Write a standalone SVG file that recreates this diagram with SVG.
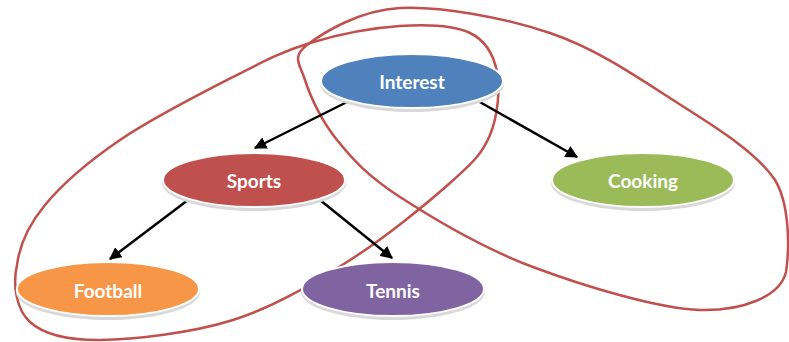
<svg xmlns="http://www.w3.org/2000/svg" width="789" height="342" viewBox="0 0 789 342">
<style>
.loop{fill:none;stroke:#C0504D;stroke-width:2.5;stroke-linejoin:round}
.edge{fill:none;stroke:#000;stroke-width:2.5}
.shadow{fill:#d9d9d9}
.node{stroke:#fff;stroke-width:2}
.lbl{font-family:Lato,"Open Sans","Liberation Sans",sans-serif;font-weight:bold;font-size:19px;fill:#fff;text-anchor:middle;dominant-baseline:central}
</style>
<defs>
<marker id="arr" viewBox="0 0 10 10" refX="9" refY="5" markerWidth="5" markerHeight="5" orient="auto" markerUnits="strokeWidth">
<path d="M0,0 L10,5 L0,10 Z" fill="#000"/>
</marker>
</defs>
<rect width="789" height="342" fill="#fff"/>
<g id="loops">
<path class="loop" d="M17,265 C19.5,245.5 27.8,225.8 45,205 C62.2,184.2 88.7,161.3 120,140 C151.3,118.7 201.3,93.2 233,77 C264.7,60.8 282.2,51.5 310,43 C337.8,34.5 373.3,27.7 400,26 C426.7,24.3 453.8,25.3 470,33 C486.2,40.7 493.7,55 497,72 C500.3,89 497.8,116.5 490,135 C482.2,153.5 473.8,161.8 450,183 C426.2,204.2 383.2,239.2 347,262 C310.8,284.8 274.2,307 233,320 C191.8,333 133.8,339.7 100,340 C66.2,340.3 43.8,334.5 30,322 C16.2,309.5 12.5,284.5 17,265 Z"/>
<path class="loop" d="M307,45 C322.8,33 359.5,10 400,8 C440.5,6 504.5,17.7 550,33 C595.5,48.3 635.8,76 673,100 C710,124 755,150 775,180 C789,203 790,245 786,272 C780,297 742,311 700,310 C657.7,308.7 583,285.8 533,267 C483,248.2 432.7,218.2 400,197 C367.3,175.8 352.8,159.5 337,140 C321.2,120.5 310,95.8 305,80 C300,64.2 291.2,57 307,45 Z"/>
</g>
<g id="connectors">
<line class="edge" x1="347" y1="102" x2="255" y2="148" marker-end="url(#arr)"/>
<line class="edge" x1="478" y1="101" x2="577" y2="157" marker-end="url(#arr)"/>
<line class="edge" x1="188" y1="200" x2="110" y2="259" marker-end="url(#arr)"/>
<line class="edge" x1="320" y1="200" x2="392" y2="258" marker-end="url(#arr)"/>
</g>
<g id="interest">
<ellipse class="shadow" cx="412" cy="84" rx="92" ry="28"/>
<ellipse class="node" cx="412" cy="81" rx="91" ry="27" fill="#4F81BD"/>
<text class="lbl" x="412" y="81">Interest</text>
</g>
<g id="sports">
<ellipse class="shadow" cx="254" cy="183" rx="92" ry="28"/>
<ellipse class="node" cx="254" cy="180" rx="91" ry="27" fill="#C0504D"/>
<text class="lbl" x="254" y="180">Sports</text>
</g>
<g id="cooking">
<ellipse class="shadow" cx="643" cy="183" rx="92" ry="28"/>
<ellipse class="node" cx="643" cy="180" rx="91" ry="27" fill="#9BBB59"/>
<text class="lbl" x="643" y="180">Cooking</text>
</g>
<g id="football">
<ellipse class="shadow" cx="108" cy="292" rx="92" ry="28"/>
<ellipse class="node" cx="108" cy="289" rx="91" ry="27" fill="#F79646"/>
<text class="lbl" x="108" y="290">Football</text>
</g>
<g id="tennis">
<ellipse class="shadow" cx="393" cy="292" rx="92" ry="28"/>
<ellipse class="node" cx="393" cy="289" rx="91" ry="27" fill="#8064A2"/>
<text class="lbl" x="393" y="290">Tennis</text>
</g>
</svg>
